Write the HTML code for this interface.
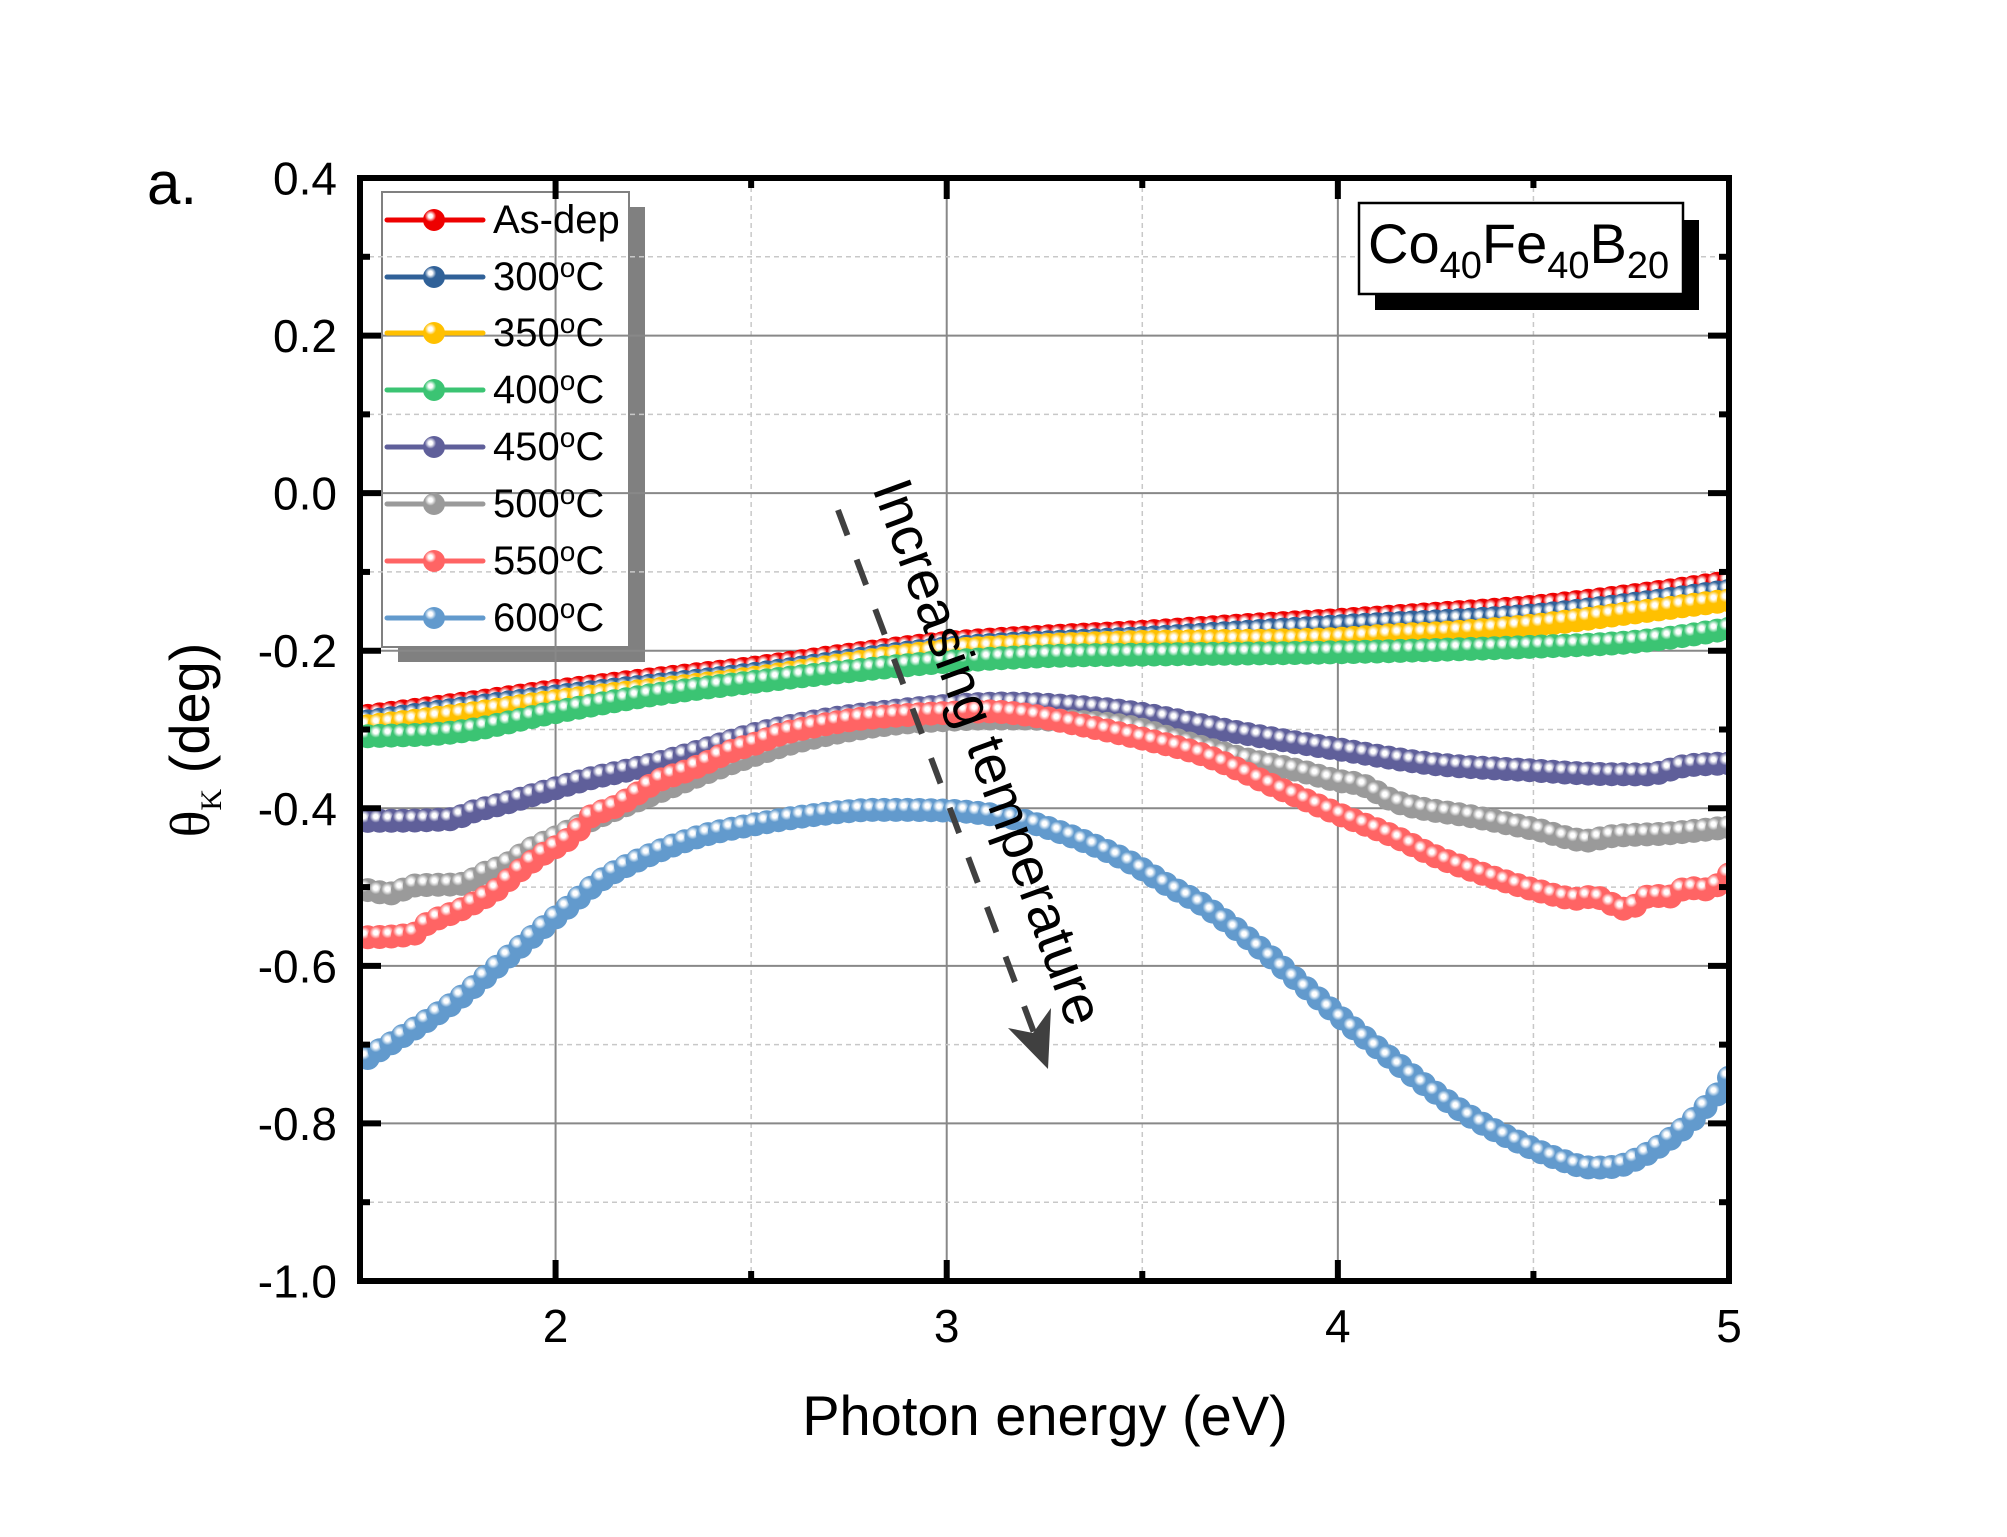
<!DOCTYPE html>
<html>
<head>
<meta charset="utf-8">
<style>
html,body{margin:0;padding:0;background:#fff;}
svg{display:block;}
text{font-family:"Liberation Sans",Arial,sans-serif;fill:#000;}
.serif{font-family:"Liberation Serif","Times New Roman",serif;}
</style>
</head>
<body>
<svg id="s" xmlns="http://www.w3.org/2000/svg" width="2007" height="1537" viewBox="0 0 2007 1537">
<defs>
<clipPath id="clip"><rect x="360" y="178" width="1369" height="1103"/></clipPath>
</defs>
<rect x="0" y="0" width="2007" height="1537" fill="#fff"/>

<!-- legend shadow and box (under gridlines) -->
<rect x="398" y="207" width="247" height="455" fill="#808080"/>
<rect x="382" y="192" width="247" height="455" fill="#fff" stroke="#808080" stroke-width="2"/>

<g id="grid"></g>
<g id="data" clip-path="url(#clip)"></g>

<!-- legend entries -->
<g id="legend"></g>

<!-- Co40Fe40B20 label -->
<rect x="1375" y="220" width="324" height="90" fill="#000"/>
<rect x="1359" y="203" width="324" height="91" fill="#fff" stroke="#000" stroke-width="2.5"/>
<text x="1368" y="263" font-size="56">Co<tspan font-size="38" dy="15">40</tspan><tspan dy="-15">Fe</tspan><tspan font-size="38" dy="15">40</tspan><tspan dy="-15">B</tspan><tspan font-size="38" dy="15">20</tspan></text>

<!-- annotation arrow -->
<line x1="838" y1="510" x2="1036" y2="1038" stroke="#404040" stroke-width="6" stroke-dasharray="27 26"/>
<polygon points="1048,1069 1008,1028 1033,1033 1051,1008" fill="#404040"/>
<text transform="translate(872,488) rotate(70)" font-size="56">Increasing temperature</text>

<!-- frame -->
<g id="frame"></g>

<!-- tick labels -->
<g font-size="46">
<text x="337" y="194.5" text-anchor="end">0.4</text>
<text x="337" y="352.1" text-anchor="end">0.2</text>
<text x="337" y="509.7" text-anchor="end">0.0</text>
<text x="337" y="667.2" text-anchor="end">-0.2</text>
<text x="337" y="824.8" text-anchor="end">-0.4</text>
<text x="337" y="982.4" text-anchor="end">-0.6</text>
<text x="337" y="1140" text-anchor="end">-0.8</text>
<text x="337" y="1297.5" text-anchor="end">-1.0</text>
<text x="555.6" y="1342" text-anchor="middle">2</text>
<text x="946.7" y="1342" text-anchor="middle">3</text>
<text x="1337.8" y="1342" text-anchor="middle">4</text>
<text x="1729" y="1342" text-anchor="middle">5</text>
</g>

<!-- axis titles -->
<text x="1045" y="1435" font-size="56" text-anchor="middle">Photon energy (eV)</text>
<text transform="translate(209,740) rotate(-90)" font-size="56" text-anchor="middle"><tspan class="serif">θ</tspan><tspan class="serif" font-size="30" dy="12">K</tspan><tspan dy="-12"> (deg)</tspan></text>

<text x="147" y="204" font-size="60">a.</text>
</svg>

<script>
(function(){
var NS="http://www.w3.org/2000/svg";
function el(tag,attrs,parent){var e=document.createElementNS(NS,tag);for(var k in attrs)e.setAttribute(k,attrs[k]);if(parent)parent.appendChild(e);return e;}
var svg=document.getElementById('s');
var defs=svg.querySelector('defs');
function X(e){return 360+(e-1.5)*391.143;}
function Y(v){return 178+(0.4-v)*787.857;}

// grid
var g=document.getElementById('grid');
[2,3,4].forEach(function(e){el('line',{x1:X(e),y1:178,x2:X(e),y2:1281,stroke:'#888','stroke-width':2},g);});
[2.5,3.5,4.5].forEach(function(e){el('line',{x1:X(e),y1:178,x2:X(e),y2:1281,stroke:'#c8c8c8','stroke-width':1.5,'stroke-dasharray':'5 4'},g);});
[0.2,0,-0.2,-0.4,-0.6,-0.8].forEach(function(v){el('line',{x1:360,y1:Y(v),x2:1729,y2:Y(v),stroke:'#888','stroke-width':2},g);});
[0.3,0.1,-0.1,-0.3,-0.5,-0.7,-0.9].forEach(function(v){el('line',{x1:360,y1:Y(v),x2:1729,y2:Y(v),stroke:'#c8c8c8','stroke-width':1.5,'stroke-dasharray':'5 4'},g);});

var series=[
{c:'#ee0000',d:[[1.5,-0.284],[1.75,-0.268],[2.0,-0.251],[2.25,-0.236],[2.5,-0.222],[2.75,-0.205],[3.0,-0.190],[3.25,-0.182],[3.5,-0.176],[3.75,-0.168],[4.0,-0.161],[4.25,-0.153],[4.5,-0.144],[4.75,-0.130],[5.0,-0.113]]},
{c:'#306198',d:[[1.5,-0.291],[2.0,-0.258],[2.5,-0.230],[3.0,-0.197],[3.5,-0.184],[4.0,-0.169],[4.5,-0.155],[4.75,-0.141],[5.0,-0.124]]},
{c:'#ffc000',d:[[1.5,-0.297],[1.75,-0.282],[2.0,-0.264],[2.5,-0.235],[3.0,-0.200],[3.25,-0.193],[3.5,-0.189],[4.0,-0.185],[4.15,-0.180],[4.25,-0.178],[4.5,-0.168],[4.75,-0.152],[5.0,-0.136]]},
{c:'#3bc473',d:[[1.5,-0.309],[1.75,-0.303],[2.0,-0.278],[2.25,-0.256],[2.5,-0.240],[2.75,-0.226],[3.0,-0.214],[3.25,-0.207],[3.5,-0.205],[4.0,-0.202],[4.5,-0.195],[4.75,-0.189],[4.9,-0.180],[5.0,-0.172]]},
{c:'#5f5f9a',d:[[1.5,-0.416],[1.73,-0.414],[1.79,-0.404],[1.875,-0.393],[1.97,-0.379],[2.09,-0.362],[2.2,-0.350],[2.33,-0.333],[2.5,-0.307],[2.67,-0.289],[2.87,-0.276],[3.0,-0.270],[3.15,-0.267],[3.3,-0.270],[3.47,-0.278],[3.76,-0.305],[4.0,-0.325],[4.25,-0.344],[4.5,-0.352],[4.64,-0.356],[4.79,-0.357],[4.89,-0.346],[5.0,-0.343]]},
{c:'#9a9a9a',d:[[1.5,-0.502],[1.58,-0.508],[1.64,-0.498],[1.76,-0.496],[1.815,-0.483],[1.875,-0.471],[1.935,-0.452],[2.0,-0.437],[2.1,-0.413],[2.2,-0.392],[2.3,-0.372],[2.4,-0.352],[2.5,-0.334],[2.6,-0.318],[2.7,-0.306],[2.8,-0.297],[2.9,-0.291],[3.0,-0.288],[3.1,-0.286],[3.2,-0.286],[3.3,-0.289],[3.47,-0.297],[3.6,-0.315],[3.76,-0.337],[3.9,-0.352],[4.0,-0.365],[4.06,-0.370],[4.15,-0.392],[4.35,-0.411],[4.5,-0.426],[4.64,-0.441],[4.69,-0.436],[4.84,-0.432],[5.0,-0.424]]},
{c:'#ff6464',d:[[1.5,-0.564],[1.64,-0.559],[1.67,-0.547],[1.756,-0.529],[1.845,-0.505],[1.909,-0.479],[1.969,-0.458],[2.028,-0.441],[2.058,-0.428],[2.088,-0.411],[2.148,-0.399],[2.207,-0.382],[2.267,-0.364],[2.327,-0.354],[2.386,-0.342],[2.446,-0.328],[2.51,-0.318],[2.575,-0.306],[2.673,-0.295],[2.77,-0.287],[2.917,-0.281],[3.0,-0.279],[3.1,-0.277],[3.2,-0.281],[3.3,-0.290],[3.469,-0.308],[3.66,-0.333],[3.86,-0.377],[4.0,-0.407],[4.15,-0.437],[4.25,-0.461],[4.45,-0.496],[4.5,-0.503],[4.618,-0.515],[4.65,-0.512],[4.74,-0.528],[4.8,-0.511],[4.857,-0.512],[4.889,-0.501],[4.948,-0.503],[5.0,-0.484]]},
{c:'#629acd',d:[[1.5,-0.725],[1.517,-0.718],[1.607,-0.690],[1.76,-0.639],[1.878,-0.589],[2.028,-0.527],[2.114,-0.492],[2.207,-0.467],[2.36,-0.437],[2.514,-0.420],[2.67,-0.408],[2.82,-0.402],[3.0,-0.403],[3.1,-0.407],[3.2,-0.416],[3.3,-0.432],[3.4,-0.452],[3.478,-0.471],[3.567,-0.498],[3.659,-0.524],[3.81,-0.581],[3.898,-0.619],[4.018,-0.670],[4.109,-0.707],[4.228,-0.753],[4.348,-0.794],[4.468,-0.825],[4.558,-0.844],[4.65,-0.856],[4.708,-0.855],[4.769,-0.844],[4.828,-0.827],[4.889,-0.804],[4.948,-0.775],[4.98,-0.757],[5.0,-0.742]]}
];

function makeInterp(pts){
  var n=pts.length,xs=[],ys=[],m=[],dl=[];
  for(var i=0;i<n;i++){xs.push(pts[i][0]);ys.push(pts[i][1]);}
  for(i=0;i<n-1;i++)dl.push((ys[i+1]-ys[i])/(xs[i+1]-xs[i]));
  m[0]=dl[0];m[n-1]=dl[n-2];
  for(i=1;i<n-1;i++){if(dl[i-1]*dl[i]<=0)m[i]=0;else m[i]=(dl[i-1]+dl[i])/2;}
  for(i=0;i<n-1;i++){
    if(dl[i]===0){m[i]=0;m[i+1]=0;continue;}
    var a=m[i]/dl[i],b=m[i+1]/dl[i],h=a*a+b*b;
    if(h>9){var t=3/Math.sqrt(h);m[i]=t*a*dl[i];m[i+1]=t*b*dl[i];}
  }
  return function(x){
    if(x<=xs[0])return ys[0];if(x>=xs[n-1])return ys[n-1];
    var k=0;while(k<n-2&&x>xs[k+1])k++;
    var hh=xs[k+1]-xs[k],t=(x-xs[k])/hh,t2=t*t,t3=t2*t;
    return (2*t3-3*t2+1)*ys[k]+(t3-2*t2+t)*hh*m[k]+(-2*t3+3*t2)*ys[k+1]+(t3-t2)*hh*m[k+1];
  };
}

function mix(hex,w){
  var r=parseInt(hex.substr(1,2),16),g2=parseInt(hex.substr(3,2),16),b=parseInt(hex.substr(5,2),16);
  r=Math.round(r+(255-r)*w);g2=Math.round(g2+(255-g2)*w);b=Math.round(b+(255-b)*w);
  return 'rgb('+r+','+g2+','+b+')';
}

var data=document.getElementById('data');
series.forEach(function(s,idx){
  var gr=el('radialGradient',{id:'gr'+idx,cx:'0.34',cy:'0.32',r:'0.26',fx:'0.34',fy:'0.32'},defs);
  el('stop',{offset:'0','stop-color':'#ffffff'},gr);
  el('stop',{offset:'0.35','stop-color':'#ffffff'},gr);
  el('stop',{offset:'0.65','stop-color':mix(s.c,0.55)},gr);
  el('stop',{offset:'1','stop-color':s.c},gr);
  s.f=makeInterp(s.d);
});
series.forEach(function(s,idx){
  var grp=el('g',{},data);
  var p='';
  for(var e=1.5;e<=5.0001;e+=0.01){p+=(p?' L':'M')+X(e).toFixed(1)+' '+Y(s.f(e)).toFixed(1);}
  el('path',{d:p,fill:'none',stroke:s.c,'stroke-width':8},grp);
  for(var k=0;k<=117;k++){
    var ee=1.52+0.03*k; if(ee>5.01)break;
    el('circle',{cx:X(ee).toFixed(1),cy:Y(s.f(ee)).toFixed(1),r:12,fill:'url(#gr'+idx+')'},grp);
  }
});

// legend
var lg=document.getElementById('legend');
var labels=['As-dep','300','350','400','450','500','550','600'];
var rows=[220,277,333,390,447,504,561,618];
series.forEach(function(s,i){
  var y=rows[i];
  el('line',{x1:387,y1:y,x2:483,y2:y,stroke:s.c,'stroke-width':5,'stroke-linecap':'round'},lg);
  el('circle',{cx:434,cy:y,r:11,fill:'url(#gr'+i+')'},lg);
  var t=el('text',{x:493,y:y+13,'font-size':40},lg);
  if(i===0){t.textContent='As-dep';}
  else{
    t.appendChild(document.createTextNode(labels[i]));
    var sp=el('tspan',{'font-size':28,dy:-13},t);sp.textContent='o';
    var sp2=el('tspan',{dy:13},t);sp2.textContent='C';
  }
});

// frame and ticks
var fr=document.getElementById('frame');
function tick(x1,y1,x2,y2){el('line',{x1:x1,y1:y1,x2:x2,y2:y2,stroke:'#000','stroke-width':6},fr);}
[2,3,4].forEach(function(e){var x=X(e);tick(x,1281,x,1260);tick(x,178,x,199);});
[2.5,3.5,4.5].forEach(function(e){var x=X(e);tick(x,1281,x,1271);tick(x,178,x,188);});
[0.2,0,-0.2,-0.4,-0.6,-0.8].forEach(function(v){var y=Y(v);tick(360,y,381,y);tick(1729,y,1708,y);});
[0.3,0.1,-0.1,-0.3,-0.5,-0.7,-0.9].forEach(function(v){var y=Y(v);tick(360,y,370,y);tick(1729,y,1719,y);});
el('rect',{x:360,y:178,width:1369,height:1103,fill:'none',stroke:'#000','stroke-width':6},fr);
})();
</script>
</body>
</html>
